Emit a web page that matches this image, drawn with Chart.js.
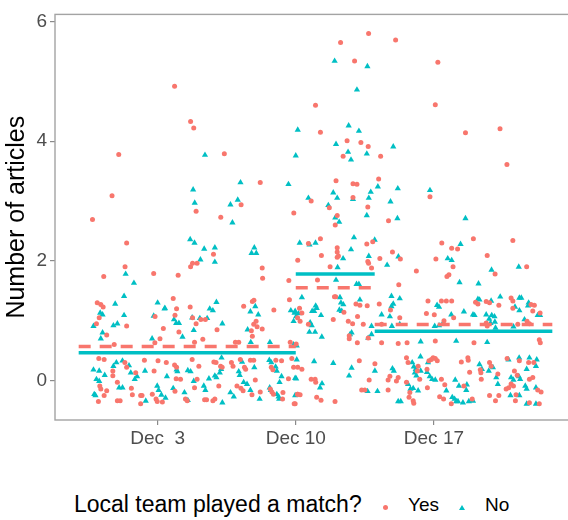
<!DOCTYPE html>
<html>
<head>
<meta charset="utf-8">
<script src="https://cdn.jsdelivr.net/npm/chart.js@4"></script>
<style>
  html, body { margin: 0; padding: 0; background: #fff; overflow: hidden; width: 568px; height: 520px; }
  #wrap { position: relative; width: 568px; height: 520px; }
  #myChart { position: absolute; left: 0; top: 0; }
  .lg { position: absolute; font-family: "Liberation Sans", Arial, sans-serif; color: #000; white-space: nowrap; }
  .dot { position: absolute; width: 5px; height: 5px; border-radius: 50%; background: #F8766D; }
  .tri { position: absolute; width: 0; height: 0; border-left: 3px solid transparent; border-right: 3px solid transparent; border-bottom: 5px solid #00BFC4; }
</style>
</head>
<body>
<div id="wrap">
  <canvas id="myChart" width="580" height="470"></canvas>
  <div class="lg" style="left:74px; top:491px; font-size:23px;">Local team played a match?</div>
  <div class="dot" style="left:383px; top:505px;"></div>
  <div class="lg" style="left:408px; top:494px; font-size:19px;">Yes</div>
  <div class="tri" style="left:459px; top:505px;"></div>
  <div class="lg" style="left:485px; top:494px; font-size:19px;">No</div>
</div>
<script>
// days counted in December (Dec 3 = 3), value = number of articles (jittered)
var yesPoints = [
  [3.86,4.92],[4.67,4.33],[4.83,4.22],[1.03,3.78],[6.38,3.79],[8.2,3.31],[0.69,3.09],[4.95,2.83],[7.23,2.94],[6.2,2.73],
  [9.9,2.8],[-0.3,2.69],[1.43,2.3],[5.83,2.11],[10.64,2.29],[10.1,2.01],
  [13.69,5.8],[12.27,5.65],[15.06,5.69],[12.98,5.34],[17.2,5.32],[11.0,4.6],[17.07,4.61],[11.25,4.15],[18.6,4.14],[20.35,4.21],
  [20.7,3.61],[12.6,4.01],[13.3,3.98],[13.67,3.91],[12.4,3.75],[14.3,3.75],[12.04,3.34],[12.9,3.29],[13.1,3.28],[14.2,3.37],
  [16.8,3.07],[12.9,3.06],[10.78,3.0],[11.7,2.89],[13.65,2.9],[12.1,2.76],[12.0,2.6],[14.7,2.67],[11.25,2.37],[12.1,2.22],
  [12.1,2.15],[12.1,2.06],[13.6,2.28],[13.9,2.32],[11.3,2.09],[14.9,2.15],[15.3,2.03],[13.65,1.99],[14.26,2.04],[17.4,2.3],
  [17.9,2.21],[18.2,2.2],[19.0,2.37],[21.0,2.34],[19.7,2.09],[17.1,2.03],
  [0.27,1.74],[1.35,1.9],[2.8,1.79],[4.04,1.76],[-0.06,1.3],[0.12,1.27],[0.24,1.23],[0.04,1.05],[1.43,0.91],[-0.1,0.95],
  [0.42,0.76],[0.8,0.6],[3.79,1.37],[3.96,1.2],[3.88,1.09],[2.87,1.07],[3.29,0.87],[4.08,0.81],[3.12,0.7],[4.65,1.23],
  [4.95,0.95],[5.19,1.02],[5.42,1.02],[4.77,1.05],[5.29,0.69],[6.01,0.85],[4.67,1.9],[4.77,1.96],[5.0,1.96],[7.36,1.24],
  [7.8,1.32],[7.88,1.34],[7.99,0.99],[7.87,0.94],[8.04,0.9],[7.75,0.83],[8.3,1.88],[8.32,1.71],[8.89,1.18],[9.65,1.67],
  [9.68,1.35],[10.02,0.61],[10.09,1.05],[9.72,0.64],[6.94,0.64],[7.11,0.64],[4.87,0.64],[2.86,0.63],[7.8,0.74],[8.3,0.86],
  [0.02,0.37],[0.29,0.35],[0.07,-0.09],[0.12,-0.14],[0.0,-0.35],[0.29,-0.25],[0.42,-0.17],[0.73,0.16],[0.73,0.08],[0.96,-0.34],
  [1.1,-0.34],[0.96,-0.03],[1.34,0.3],[1.43,0.22],[1.67,-0.13],[1.72,-0.24],[1.89,0.13],[2.14,-0.25],[2.21,-0.25],[2.14,-0.39],
  [2.33,0.34],[2.82,0.16],[2.73,-0.23],[2.92,-0.31],[2.98,-0.35],[3.02,0.33],[3.44,0.3],[3.24,-0.36],[3.86,0.26],[3.96,0.22],
  [3.94,0.03],[4.16,0.02],[3.88,-0.18],[4.41,-0.31],[4.5,-0.34],[4.75,0.35],[5.0,0.02],[5.09,0.24],[4.87,-0.12],[5.38,-0.32],
  [5.48,-0.32],[5.85,0.31],[5.96,0.3],[5.8,-0.34],[5.9,-0.31],[6.19,0.24],[6.27,0.22],[6.1,-0.09],[6.74,0.3],[6.82,0.24],
  [7.02,-0.09],[7.22,-0.13],[7.33,-0.17],[7.19,0.35],[7.4,0.22],[7.46,0.19],[7.7,0.34],[7.87,0.34],[7.95,0.01],[7.78,-0.24],
  [8.2,-0.19],[8.76,0.22],[8.84,0.18],[8.71,-0.14],[8.79,-0.19],[8.87,-0.23],[9.35,-0.2],[9.33,-0.31],[8.99,0.34],[9.28,0.33],
  [9.63,0.03],[10.1,0.22],[10.1,-0.23],[9.97,-0.39],
  [12.16,2.08],[13.69,1.96],[13.84,1.88],[11.74,1.9],[16.11,1.83],[17.97,1.9],[17.66,1.74],[17.76,1.77],[20.1,1.78],[21.7,1.9],
  [11.1,1.68],[15.22,1.6],
  [10.19,1.21],[10.31,1.13],[10.22,0.99],[10.64,0.94],[11.96,1.4],[12.02,1.4],[11.9,1.02],[12.44,1.14],[12.66,0.99],[12.88,0.95],
  [12.71,0.7],[13.05,1.28],[13.25,1.26],[13.13,1.07],[13.42,0.94],[13.62,1.25],[13.12,0.63],[13.67,0.71],[14.23,1.28],[14.8,1.18],
  [15.27,1.05],[14.35,0.94],[16.7,1.33],[17.38,1.33],[17.63,1.33],[17.9,1.33],[16.62,1.12],[17.02,1.1],[18.0,1.05],[17.51,1.0],
  [19.11,1.31],[19.23,1.28],[19.65,1.32],[19.82,1.3],[20.29,1.26],[20.91,1.38],[21.0,1.33],[21.0,1.21],[21.92,1.27],[22.09,1.26],
  [22.01,1.16],[22.38,1.13],[21.72,0.99],[21.84,0.95],[21.25,0.94],[19.65,0.96],[19.7,0.91],[22.34,0.68],[22.39,0.63],[14.35,0.63],
  [15.19,0.62],[15.64,0.63],[17.07,0.66],[19.03,0.63],[12.71,0.75],
  [9.8,0.37],[9.89,0.22],[10.31,0.19],[9.92,-0.39],[10.09,-0.23],[10.22,-0.24],[10.78,0.02],[10.98,0.02],[11.01,-0.03],[11.06,-0.28],
  [11.28,-0.33],[11.99,-0.35],[13.22,0.33],[13.72,0.01],[13.34,-0.16],[13.5,-0.16],[14.01,0.28],[14.68,-0.16],[14.77,0.07],[14.68,0.01],
  [15.19,0.05],[15.1,-0.01],[15.61,0.38],[15.69,0.3],[16.2,0.24],[16.16,0.16],[16.28,0.02],[15.61,-0.03],[15.78,-0.2],[15.74,-0.28],
  [15.95,-0.34],[15.98,-0.38],[16.65,0.19],[16.75,0.33],[16.87,0.35],[16.96,0.38],[17.07,0.37],[17.17,0.33],[16.67,-0.12],[17.29,-0.27],
  [17.49,-0.31],[17.88,-0.39],[17.55,-0.07],[17.38,0.02],[18.39,0.31],[18.74,0.34],[18.72,0.38],[18.81,0.14],[19.35,0.18],[19.38,0.13],
  [19.4,0.02],[18.52,-0.09],[18.94,-0.31],[19.82,0.3],[19.9,0.24],[20.24,0.11],[19.82,-0.25],[20.29,-0.25],[20.12,-0.34],[20.71,0.37],
  [21.08,0.16],[21.22,0.09],[20.91,-0.06],[21.03,-0.09],[20.79,-0.12],[20.66,-0.14],[21.16,-0.24],[21.13,-0.34],[21.84,-0.37],[22.34,-0.39],
  [21.8,0.3],[22.06,0.3],[21.84,0.02],[22.01,0.05],[22.43,-0.19],[22.26,-0.16],[21.33,0.33]
];

var noPoints = [
  [5.4,3.77],[10.1,4.19],[10.0,3.76],[7.2,3.31],[9.63,3.28],[4.8,3.19],[4.88,2.97],[6.69,2.94],[7.06,3.02],[6.79,2.64],
  [10.64,3.05],[4.65,2.36],[4.87,2.3],[5.36,2.2],[5.9,2.22],[7.9,2.22],[7.76,2.13],[8.0,2.13],[10.2,2.3],[5.17,2.02],[5.9,1.98],
  [11.97,5.34],[13.63,5.25],[13.1,4.86],[12.68,4.26],[13.2,4.17],[12.04,3.95],[14.94,3.91],[12.65,3.82],[13.6,3.79],[12.8,3.69],
  [14.16,3.24],[15.17,3.21],[16.8,3.18],[11.9,3.14],[12.1,3.05],[13.8,3.15],[13.7,3.05],[12.9,3.03],[11.65,2.93],[14.8,2.99],
  [12.0,2.72],[12.2,2.65],[13.6,2.76],[15.15,2.71],[18.6,2.71],[11.0,2.3],[10.7,2.27],[12.95,2.39],[12.8,2.19],[12.4,2.04],
  [14.0,2.35],[15.2,2.07],[13.7,2.08],[18.35,2.28],[17.7,2.04],[17.9,2.01],
  [1.38,1.78],[1.8,1.63],[1.3,1.41],[0.85,1.28],[0.09,1.13],[0.21,1.1],[1.3,1.09],[0.76,0.92],[0.96,0.95],[-0.25,0.91],
  [0.21,0.8],[0.12,0.7],[3.0,1.3],[3.37,1.21],[3.83,1.02],[3.94,0.96],[4.08,0.96],[2.72,0.7],[4.26,0.73],[4.83,0.84],
  [5.14,1.04],[5.51,1.04],[5.64,1.2],[5.8,1.17],[5.98,1.31],[6.28,0.95],[7.7,1.15],[7.95,1.24],[8.1,1.1],[7.56,0.85],
  [7.72,0.64],[8.69,0.64],[9.75,1.17],[9.94,1.13],[10.14,1.12],[9.89,0.6],[10.05,0.58],[2.8,1.08],[3.35,1.2],[4.75,1.05],
  [-0.25,0.18],[0.04,0.16],[-0.1,0.02],[0.04,-0.01],[-0.21,-0.23],[-0.15,-0.25],[0.32,0.09],[0.91,0.3],[0.76,0.24],[1.22,0.33],
  [1.05,-0.12],[1.22,-0.12],[1.55,0.25],[1.64,0.13],[1.84,0.02],[1.96,0.07],[2.36,0.16],[2.4,-0.34],[2.98,-0.09],[3.05,-0.16],
  [3.19,-0.24],[3.4,-0.29],[3.47,0.07],[3.96,0.18],[4.0,0.15],[3.79,-0.13],[4.36,-0.2],[4.53,-0.33],[4.83,-0.01],[4.53,0.17],
  [4.67,0.15],[5.34,-0.09],[5.42,-0.16],[5.6,0.03],[5.9,0.08],[5.98,0.05],[6.24,0.38],[6.28,-0.37],[6.15,0.13],[6.22,0.19],
  [7.11,0.15],[7.16,0.09],[6.69,-0.2],[6.86,-0.27],[7.28,0.31],[7.36,-0.03],[7.53,-0.06],[7.7,-0.16],[7.9,0.22],[8.17,-0.31],
  [8.66,0.34],[8.76,0.3],[8.98,0.23],[9.04,0.16],[8.68,-0.12],[8.74,-0.16],[9.04,-0.23],[9.13,-0.27],[9.16,-0.31],[9.28,0.07],
  [9.18,-0.03],[10.02,0.03],[10.05,0.35],[9.97,-0.25],
  [14.63,1.93],[12.12,1.89],[19.92,1.85],[21.3,1.9],[12.04,1.68],[13.08,1.61],[13.2,1.61],[18.3,1.64],[19.26,1.62],
  [10.31,1.39],[9.97,1.16],[10.02,1.07],[9.89,0.99],[10.73,0.97],[10.81,0.92],[11.01,1.25],[11.06,1.21],[10.83,1.16],[10.93,1.16],
  [11.28,1.09],[10.69,0.81],[10.98,0.81],[11.32,0.73],[12.24,1.39],[12.29,1.3],[12.41,1.27],[12.21,1.18],[12.33,1.16],[12.75,0.77],
  [12.83,0.8],[13.25,1.35],[13.84,0.91],[13.84,0.77],[13.67,0.71],[14.85,1.41],[15.27,1.37],[14.94,1.28],[14.85,1.24],[14.35,1.1],
  [14.77,1.07],[17.16,1.26],[17.26,1.23],[17.88,1.1],[18.52,1.15],[18.98,1.1],[19.06,1.09],[19.23,1.36],[19.31,1.35],[19.9,1.33],
  [19.65,1.1],[19.93,1.09],[20.07,1.07],[20.36,1.4],[21.33,1.38],[21.43,1.38],[21.11,1.23],[21.33,1.17],[21.8,1.3],[21.77,1.25],
  [22.26,1.09],[22.38,1.09],[21.59,1.02],[19.8,1.03],[19.87,0.96],[20.09,0.98],[20.12,0.88],[14.87,0.91],[15.27,0.94],[17.04,0.91],
  [17.26,0.92],[17.46,0.96],[21.03,0.9],[16.33,0.65],[18.13,0.66],[19.7,0.64],
  [10.93,0.32],[11.9,0.29],[9.97,0.04],[11.23,-0.12],[11.33,-0.05],[12.83,0.21],[12.7,0.08],[13.64,-0.18],[14.14,-0.18],[14.01,0.16],
  [14.9,0.2],[14.97,0.16],[15.19,-0.35],[15.32,-0.35],[15.9,0.3],[15.98,0.23],[16.08,0.19],[16.03,0.13],[16.11,0.08],[16.33,0.16],
  [15.69,-0.06],[15.81,-0.14],[15.95,-0.13],[16.2,-0.17],[16.32,0.4],[16.7,0.3],[16.65,0.14],[16.79,0.07],[16.91,0.02],[17.07,0.01],
  [17.63,-0.17],[18.08,0.01],[18.27,-0.09],[17.93,-0.28],[18.05,-0.31],[18.13,-0.35],[19.31,0.27],[19.43,0.19],[18.67,-0.07],[18.64,-0.16],
  [18.77,-0.35],[18.98,-0.34],[18.22,-0.35],[18.47,-0.37],[19.78,0.16],[19.99,0.22],[20.16,0.05],[20.24,-0.06],[20.78,0.35],[20.91,0.05],
  [21.03,0.01],[21.3,0.07],[21.37,0.02],[20.88,-0.25],[21.33,-0.25],[21.7,-0.39],[22.17,-0.39],[21.84,0.38],[22.21,0.35],[21.7,0.19],
  [22.17,0.24],[22.17,-0.12],[21.63,-0.09],[21.7,-0.14],[21.32,0.38]
];

// period means
var periodStart = [-1, 10, 14];
var periodEnd = [10, 14, 23];
var yesMeans = [0.57, 1.55, 0.935];
var noMeans = [0.465, 1.78, 0.825];

var xTicks = [3, 10, 17];
var xTickLabels = ["Dec  3", "Dec 10", "Dec 17"];
var yTicks = [0, 2, 4, 6];

var RED = "#F8766D";
var TEAL = "#00BFC4";
var FONT = "'Liberation Sans', Arial, sans-serif";

function toXY(arr) {
  return arr.map(function(p) { return { x: p[0], y: p[1] }; });
}

var datasets = [{
  type: "scatter",
  label: "Yes",
  data: toXY(yesPoints),
  backgroundColor: RED,
  borderWidth: 0,
  pointStyle: "circle",
  pointRadius: 2.5,
  order: 2
}, {
  type: "scatter",
  label: "No",
  data: toXY(noPoints),
  backgroundColor: TEAL,
  borderWidth: 0,
  pointStyle: "triangle",
  pointRadius: 3.6,
  order: 2
}];

periodStart.forEach(function(s, i) {
  datasets.push({
    type: "line",
    label: "Yes mean",
    data: [{ x: s, y: yesMeans[i] }, { x: periodEnd[i], y: yesMeans[i] }],
    borderColor: RED,
    borderWidth: 3.5,
    borderDash: [12, 9],
    borderCapStyle: "butt",
    pointRadius: 0,
    fill: false,
    order: 1
  });
  datasets.push({
    type: "line",
    label: "No mean",
    data: [{ x: s, y: noMeans[i] }, { x: periodEnd[i], y: noMeans[i] }],
    borderColor: TEAL,
    borderWidth: 3.5,
    pointRadius: 0,
    fill: false,
    order: 0
  });
});

// grey panel border all round
var panelBorder = {
  id: "panelBorder",
  afterDraw: function(chart) {
    var a = chart.chartArea, c = chart.ctx;
    c.save();
    c.strokeStyle = "#a3a3a3";
    c.lineWidth = 1.4;
    c.strokeRect(a.left, a.top, a.right - a.left, a.bottom - a.top);
    c.restore();
  }
};

var ctx = document.getElementById("myChart");
new Chart(ctx, {
  type: "scatter",
  data: { datasets: datasets },
  plugins: [panelBorder],
  options: {
    responsive: false,
    animation: false,
    devicePixelRatio: 1,
    layout: { padding: { left: 0, right: 3, top: 11, bottom: 0 } },
    plugins: {
      legend: { display: false },
      tooltip: { enabled: false }
    },
    elements: { line: { tension: 0 } },
    scales: {
      x: {
        type: "linear",
        min: -2.2,
        max: 24.2,
        afterBuildTicks: function(scale) {
          scale.ticks = xTicks.map(function(v) { return { value: v }; });
        },
        afterFit: function(scale) { scale.height = 50; },
        ticks: {
          autoSkip: false,
          maxRotation: 0,
          padding: 2,
          color: "#4d4d4d",
          font: { family: FONT, size: 19 },
          callback: function(v) { return xTickLabels[xTicks.indexOf(v)]; }
        },
        grid: { drawOnChartArea: false, drawTicks: true, tickLength: 5, color: "#8a8a8a", lineWidth: 1.2 },
        border: { display: false }
      },
      y: {
        min: -0.66,
        max: 6.12,
        afterBuildTicks: function(scale) {
          scale.ticks = yTicks.map(function(v) { return { value: v }; });
        },
        afterFit: function(scale) { scale.width = 55; },
        ticks: {
          padding: 3,
          color: "#4d4d4d",
          font: { family: FONT, size: 19 }
        },
        grid: { drawOnChartArea: false, drawTicks: true, tickLength: 5, color: "#8a8a8a", lineWidth: 1.2 },
        border: { display: false },
        title: {
          display: true,
          text: "Number of articles",
          color: "#000",
          padding: { top: 2, bottom: 0 },
          font: { family: FONT, size: 25 }
        }
      }
    }
  }
});
</script>
</body>
</html>
